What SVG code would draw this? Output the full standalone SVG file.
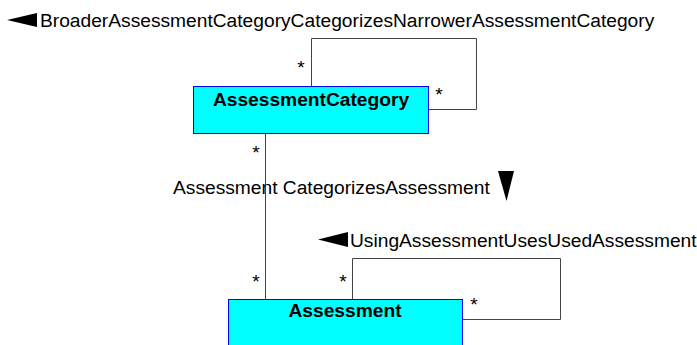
<svg xmlns="http://www.w3.org/2000/svg" width="697" height="345" viewBox="0 0 697 345">
<style>
text{font-family:"Liberation Sans",Arial,sans-serif;font-size:19.2px;fill:#000}
.cls{fill:#00ffff;stroke:#0000ff;stroke-width:1}
.name{font-weight:bold;text-anchor:middle}
.mult{text-anchor:middle}
.conn{fill:none;stroke:#444;stroke-width:1}
.arrow{fill:#000}
</style>
<rect width="697" height="345" fill="#fff"/>
<g id="connectors">
<polyline class="conn" points="311.5,86 311.5,38.5 476.5,38.5 476.5,109.5 428,109.5"/>
<line class="conn" x1="265.5" y1="133" x2="265.5" y2="299"/>
<polyline class="conn" points="352.5,299 352.5,258.5 560.5,258.5 560.5,319.5 463,319.5"/>
<text class="mult" x="301" y="74">*</text>
<text class="mult" x="439" y="101">*</text>
<text class="mult" x="256" y="159">*</text>
<text class="mult" x="256" y="288">*</text>
<text class="mult" x="343" y="288">*</text>
<text class="mult" x="474" y="311">*</text>
<polygon class="arrow" points="7,20 37,13 37,27"/>
<text x="40" y="27">BroaderAssessmentCategoryCategorizesNarrowerAssessmentCategory</text>
<text x="173" y="194">Assessment CategorizesAssessment</text>
<polygon class="arrow" points="498,171 514,171 506.5,201"/>
<polygon class="arrow" points="318,239.5 348,232 348,247"/>
<text x="350" y="247">UsingAssessmentUsesUsedAssessment</text>
</g>
<g id="AssessmentCategory">
<rect class="cls" x="193.5" y="86.5" width="235" height="47"/>
<text class="name" x="311" y="106">AssessmentCategory</text>
</g>
<g id="Assessment">
<rect class="cls" x="228.5" y="299.5" width="234" height="60"/>
<text class="name" x="345" y="317">Assessment</text>
</g>
</svg>
